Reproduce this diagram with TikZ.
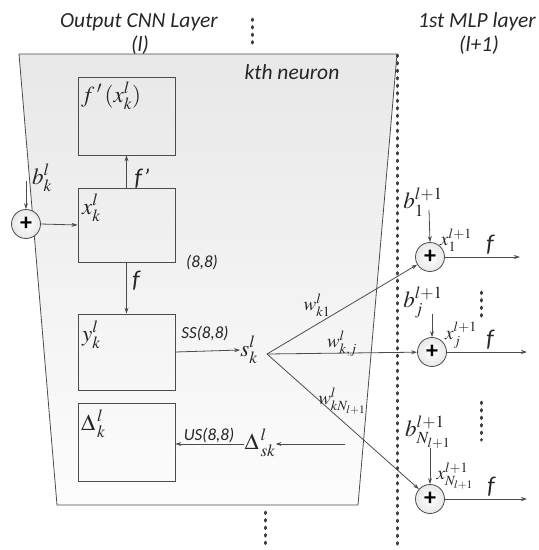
\documentclass[tikz,border=0pt]{standalone}
\usepackage{mathptmx}
\usepackage[no-math]{fontspec}
\setsansfont{Carlito}
\usetikzlibrary{arrows.meta}
\begin{document}
\begin{tikzpicture}[x=1pt,y=-1pt,
  ln/.style={draw=black!70, line width=0.8pt},
  arr/.style={ln, -{Stealth[length=6pt,width=4pt]}},
  box/.style={draw=black!70, line width=0.8pt, minimum width=97pt, inner sep=0pt},
  sumc/.style={circle, draw=black!70, line width=0.8pt, minimum size=29pt, inner sep=0pt, inner color=white, outer color=black!9, text=black, font=\fontsize{24}{24}\selectfont\sffamily\bfseries},
  ttl/.style={font=\fontsize{21.5}{22}\selectfont\sffamily\itshape, text=black!85},
  lab/.style={font=\fontsize{17}{18}\selectfont\sffamily\itshape, text=black!85},
  flab/.style={font=\fontsize{24}{24}\selectfont\sffamily\itshape, text=black!85},
  mth/.style={font=\fontsize{23}{24}\selectfont, text=black!85, inner sep=0pt},
  smth/.style={font=\fontsize{19}{20}\selectfont, text=black!85, inner sep=0pt},
  bigdots/.style={line width=3pt, dash pattern=on 1.5pt off 6pt, line cap=round, draw=black!75}
]
\useasboundingbox (0,0) rectangle (539,550);
% trapezoid
\path[top color=black!9, bottom color=black!1] (19,54) -- (397,54) -- (358,505) -- (57,505) -- cycle;
\draw[ln] (19,54) -- (397,54) -- (358,505) -- (57,505) -- cycle;
% dotted separators
\coordinate (t1) at (252,19); \coordinate (t2) at (252,46);
\coordinate (u1) at (265,512); \coordinate (u2) at (265,548);
\coordinate (v1) at (397,55); \coordinate (v2) at (397,547);
\coordinate (r1) at (481,292); \coordinate (r2) at (481,322);
\coordinate (q1) at (481,402); \coordinate (q2) at (481,440);
\draw[bigdots] (t1) -- (t2);
\draw[bigdots] (u1) -- (u2);
\draw[bigdots] (v1) -- (v2);
\draw[bigdots] (r1) -- (r2);
\draw[bigdots] (q1) -- (q2);
% titles
\node[ttl] (t-out) at (139,22) {Output CNN Layer};
\node[ttl] (t-l) at (140,45) {(l)};
\node[ttl] (t-mlp) at (477,22) {1st MLP layer};
\node[ttl] (t-l1) at (479,45) {(l+1)};
\node[ttl] (t-k) at (292,72) {kth neuron};
% boxes
\node[box, minimum height=78pt] (fp) at (126.5,116) {};
\node[box, minimum height=74pt] (xb) at (126.5,225) {};
\node[box, minimum height=76pt] (yb) at (126.5,352) {};
\node[box, minimum height=78pt] (db) at (126.5,442) {};
\node[mth, anchor=west] (fpl) at (81,96) {$f\,'\,(x_k^l)$};
\node[mth, anchor=west] (xbl) at (82,208) {$x_k^l$};
\node[mth, anchor=west] (ybl) at (82,335) {$y_k^l$};
\node[mth, anchor=west] (dbl) at (81,424) {$\Delta_{\,k}^{\,l}$};
% left sum
\node[sumc] (sumL) at (26,224) {+};
\node[mth] (bk) at (42,178) {$b_k^l$};
\coordinate (bka) at (26,181);
\draw[arr] (bka) -- (sumL.north);
\draw[arr] (sumL.east) -- (xb.west);
\draw[arr] (xb.north) -- (fp.south);
\node[flab] (fpr) at (142,179) {f’};
\draw[arr] (xb.south) -- (yb.north);
\node[flab] (fl) at (136,281) {f};
\node[lab] (e88) at (202,262) {(8,8)};
\node[lab] (ss) at (205,333) {SS(8,8)};
\node[mth] (sk) at (249,350) {$s_k^l$};
\draw[arr] (yb.east) -- (sk.west);
\coordinate (fan) at (267,354);
% right sums
\node[sumc] (p1) at (430,257) {+};
\node[sumc] (pj) at (432,352) {+};
\node[sumc] (pN) at (430,499) {+};
\draw[arr] (fan) -- (p1);
\draw[arr] (fan) -- (pj);
\draw[arr] (fan) -- (pN);
\node[smth] (w1) at (317,305) {$w_{k1}^l$};
\node[smth] (wj) at (342,344) {$w_{k,j}^l$};
\node[smth] (wN) at (342,401) {$w_{kN_{l+1}}^l$};
% biases
\node[mth] (b1) at (423,202) {$b_1^{l+1}$};
\node[mth] (bj) at (423,302) {$b_j^{l+1}$};
\node[mth] (bN) at (428,432) {$b_{N_{l+1}}^{l+1}$};
\coordinate (b1a) at (429,210);
\coordinate (bja) at (432,314);
\coordinate (bNa) at (430,448);
\draw[arr] (b1a) -- (p1.north);
\draw[arr] (bja) -- (pj.north);
\draw[arr] (bNa) -- (pN.north);
\node[smth] (x1) at (456,240) {$x_1^{l+1}$};
\node[smth] (xj) at (461,335) {$x_j^{l+1}$};
\node[smth] (xN) at (455,476) {$x_{N_{l+1}}^{l+1}$};
\node[flab] (f1) at (490,245) {f};
\node[flab] (fj) at (490,340) {f};
\node[flab] (fN) at (491,487) {f};
\coordinate (o1) at (520,257);
\coordinate (oj) at (527,352);
\coordinate (oN) at (527,499);
\draw[arr] (p1.east) -- (o1);
\draw[arr] (pj.east) -- (oj);
\draw[arr] (pN.east) -- (oN);
% delta path
\node[mth] (dsk) at (260,443) {$\Delta_{\,sk}^{\,l}$};
\coordinate (dsrc) at (345,444);
\draw[arr] (dsrc) -- (dsk.east|-dsrc);
\draw[arr] (dsk.west|-dsrc) -- (db.east|-dsrc);
\node[lab] (us) at (209,435) {US(8,8)};
\end{tikzpicture}
\end{document}
